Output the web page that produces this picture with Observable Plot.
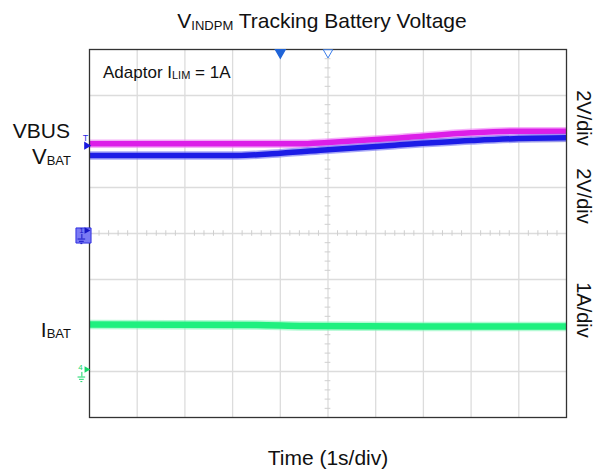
<!DOCTYPE html>
<html>
<head>
<meta charset="utf-8">
<script src="https://cdn.jsdelivr.net/npm/d3@7"></script>
<script src="https://cdn.jsdelivr.net/npm/@observablehq/plot@0.6"></script>
<style>
  html, body { margin: 0; padding: 0; background: #fff; }
  #chart { position: relative; width: 597px; height: 471px; }
  svg { font-family: "Liberation Sans", Arial, sans-serif; }
</style>
</head>
<body>
<div id="chart"></div>
<script>
// ---- Data (time in s, 1 s/div; voltages in V at 2 V/div; current in A at 1 A/div) ----
const timeVBUS = [0, 4.4, 5.0, 6.5, 8.0, 9.0, 10];
const vbus     = [3.90, 3.90, 3.96, 4.15, 4.38, 4.45, 4.45];
const timeVBAT = [0, 3.1, 4.0, 5.0, 6.4, 8.0, 9.0, 10];
const vbat     = [3.39, 3.39, 3.49, 3.64, 3.84, 4.04, 4.13, 4.16];
const timeIBAT = [0, 3.5, 4.5, 7.0, 10];
const ibat     = [1.02, 1.01, 0.99, 0.98, 0.98];

const voltsPerDiv = 2;      // CH1/CH2
const ampsPerDiv = 1;       // CH4
const ch1Ground = 0;        // divisions
const ch4Ground = -3;       // divisions
const triggerLevel = 1.91;  // divisions
const cursorTimes = [4.0, 5.0]; // top markers (s)

const gridX = [1, 2, 3, 4, 5, 6, 7, 8, 9];
const gridY = [-3, -2, -1, 0, 1, 2, 3];

const rightLabels = ["2V/div", "2V/div", "1A/div"];

// Build tables
const vbusData = timeVBUS.map((t, i) => ({t, d: ch1Ground + vbus[i] / voltsPerDiv}));
const vbatData = timeVBAT.map((t, i) => ({t, d: ch1Ground + vbat[i] / voltsPerDiv}));
const ibatData = timeIBAT.map((t, i) => ({t, d: ch4Ground + ibat[i] / ampsPerDiv}));
const minorX = d3.range(0.2, 10, 0.2).filter(v => Math.abs(v - Math.round(v)) > 1e-6);
const minorY = d3.range(-3.8, 4, 0.2).filter(v => Math.abs(v - Math.round(v)) > 1e-6);

const magenta = "#dc1ee8", magentaHalo = "#f07cf6";
const blue = "#1c1ce6", blueHalo = "#7070f2";
const green = "#1ff07f", greenHalo = "#80f7b8";

const lineOpts = {x: "t", y: "d", curve: "monotone-x", strokeLinecap: "butt", clip: true};

// ground symbol pieces for a marker at level g (in divisions), drawn left of the frame
function groundSymbol(g, color) {
  return [
    Plot.ruleY([g - 0.12], {x1: -0.24, x2: -0.08, stroke: color, strokeWidth: 1}),
    Plot.ruleY([g - 0.17], {x1: -0.21, x2: -0.11, stroke: color, strokeWidth: 1}),
    Plot.ruleY([g - 0.22], {x1: -0.18, x2: -0.14, stroke: color, strokeWidth: 1}),
    Plot.ruleX([-0.16], {y1: g - 0.12, y2: g - 0.02, stroke: color, strokeWidth: 1})
  ];
}

const plot = Plot.plot({
  width: 597,
  height: 471,
  marginLeft: 89,
  marginRight: 31,
  marginTop: 49,
  marginBottom: 54,
  x: {domain: [0, 10], axis: null},
  y: {domain: [-4, 4], axis: null},
  marks: [
    Plot.ruleX(gridX, {stroke: "#dcdcdc", strokeWidth: 1.3}),
    Plot.ruleY(gridY, {stroke: "#dcdcdc", strokeWidth: 1.3}),
    Plot.ruleX(minorX, {y1: -0.06, y2: 0.06, stroke: "#cfcfcf"}),
    Plot.ruleY(minorY, {x1: 4.94, x2: 5.06, stroke: "#cfcfcf"}),
    // traces
    Plot.line(ibatData, {...lineOpts, stroke: greenHalo, strokeWidth: 9.5, strokeOpacity: 0.6}),
    Plot.line(ibatData, {...lineOpts, stroke: green, strokeWidth: 6.5}),
    Plot.line(vbusData, {...lineOpts, stroke: magentaHalo, strokeWidth: 8.5, strokeOpacity: 0.6}),
    Plot.line(vbusData, {...lineOpts, stroke: magenta, strokeWidth: 5.5}),
    Plot.line(vbatData, {...lineOpts, stroke: blueHalo, strokeWidth: 8.5, strokeOpacity: 0.6}),
    Plot.line(vbatData, {...lineOpts, stroke: blue, strokeWidth: 5.5}),
    Plot.frame({stroke: "#333", strokeWidth: 1.3}),
    // top cursor markers
    Plot.dot([cursorTimes[0]], {x: d => d, y: 4, dy: 3, symbol: "triangle", rotate: 180, r: 3.5, fill: "#1f64d8", stroke: "#1f64d8"}),
    Plot.dot([cursorTimes[1]], {x: d => d, y: 4, dy: 3, symbol: "triangle", rotate: 180, r: 3.5, fill: "white", stroke: "#3a7ce8", strokeWidth: 1}),
    // CH1 ground marker (left)
    Plot.dot([ch1Ground], {x: 0, y: d => d, dx: -6, dy: 2, symbol: "square", r: 8.5, fill: "#7a7af4", stroke: "#3030e0", strokeWidth: 1}),
    Plot.text([ch1Ground], {x: 0, y: d => d, dx: -8, dy: -3, text: () => "1", fill: "#1818c8", fontSize: 8}),
    Plot.dot([ch1Ground], {x: 0, y: d => d, dx: -3, dy: -3, symbol: "triangle", rotate: 90, r: 2.5, fill: "#1818c8"}),
    ...groundSymbol(ch1Ground, "#1818c8"),
    // CH4 ground marker
    Plot.text([ch4Ground], {x: 0, y: d => d, dx: -9, dy: -4, text: () => "4", fill: "#18d86a", fontSize: 8}),
    Plot.dot([ch4Ground], {x: 0, y: d => d, dx: -3, dy: -2, symbol: "triangle", rotate: 90, r: 2.5, fill: "#18d86a"}),
    ...groundSymbol(ch4Ground, "#18d86a"),
    // trigger marker
    Plot.text([triggerLevel], {x: 0, y: d => d, dx: -4, dy: -8, text: () => "T", fill: "#2a2ae6", fontSize: 9}),
    Plot.dot([triggerLevel], {x: 0, y: d => d, dx: -3, symbol: "triangle", rotate: 90, r: 3, fill: "#1818e0"})
  ]
});

document.getElementById("chart").appendChild(plot);

// ---- Text annotations (SVG text with subscripts) ----
const svg = d3.select(plot);
const font = "'Liberation Sans', Arial, sans-serif";
function label(x, y, parts, opts = {}) {
  const t = svg.append("text")
    .attr("x", x).attr("y", y)
    .attr("font-family", font)
    .attr("font-size", opts.size || 20)
    .attr("fill", "#111")
    .attr("text-anchor", opts.anchor || "start");
  if (opts.transform) t.attr("transform", opts.transform).attr("x", 0).attr("y", 0);
  parts.forEach(p => {
    const s = t.append("tspan").text(p.text);
    if (p.sub) s.attr("font-size", p.sub).attr("dy", p.dy || 0);
    if (p.back) s.attr("dy", p.back);
  });
  return t;
}

label(322, 28, [{text: "V"}, {text: "INDPM", sub: 13, dy: 2}, {text: " Tracking Battery Voltage", back: -2}], {size: 21, anchor: "middle"});
label(103, 78, [{text: "Adaptor I"}, {text: "LIM", sub: 11, dy: 1}, {text: " = 1A", back: -1}], {size: 17});
label(70, 138, [{text: "VBUS"}], {size: 21, anchor: "end"});
label(71, 164, [{text: "V"}, {text: "BAT", sub: 13, dy: 1}], {size: 22, anchor: "end"});
label(71, 337, [{text: "I"}, {text: "BAT", sub: 13, dy: 1}], {size: 21, anchor: "end"});
label(328, 465, [{text: "Time (1s/div)"}], {size: 21, anchor: "middle"});

const rightY = [118, 196, 310];
rightLabels.forEach((txt, i) => {
  label(0, 0, [{text: txt}], {size: 20, anchor: "middle", transform: `translate(577,${rightY[i]}) rotate(90)`});
});
</script>
</body>
</html>
